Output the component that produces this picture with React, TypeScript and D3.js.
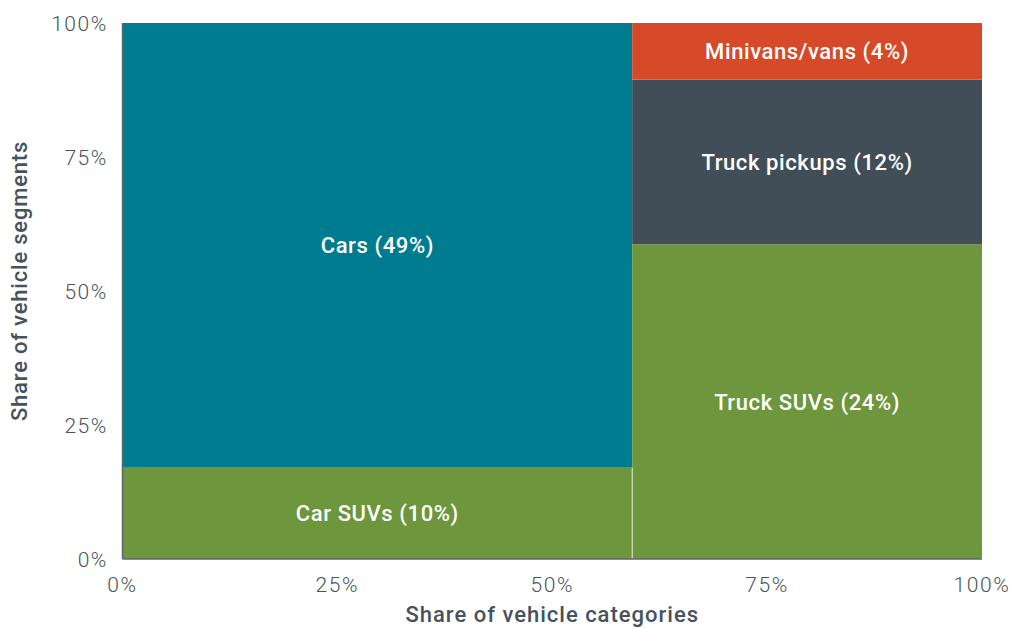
import React from "react";
import * as d3 from "d3";

const categories = ["Car", "Truck"];
const segments = [
  { category: "Car", label: "Car SUVs", display: "10%", value: 10.1, color: "#6d963d" },
  { category: "Car", label: "Cars", display: "49%", value: 49.2, color: "#007c91" },
  { category: "Truck", label: "Truck SUVs", display: "24%", value: 23.9, color: "#6d963d" },
  { category: "Truck", label: "Truck pickups", display: "12%", value: 12.5, color: "#414e57" },
  { category: "Truck", label: "Minivans/vans", display: "4%", value: 4.3, color: "#d64a29" },
];
const ticks = [0, 0.25, 0.5, 0.75, 1];

const W = 1014, H = 628;
const M = { left: 122.5, right: 32, top: 23, bottom: 69 };
const FONT = "Roboto, 'Noto Sans', sans-serif";

export default function App() {
  const x = d3.scaleLinear().domain([0, 1]).range([M.left, W - M.right]);
  const y = d3.scaleLinear().domain([0, 1]).range([H - M.bottom, M.top]);
  const total = d3.sum(segments, (d) => d.value);

  const cols: any[] = [];
  let xc = 0;
  categories.forEach((c) => {
    const segs = segments.filter((s) => s.category === c);
    const colTotal = d3.sum(segs, (s) => s.value);
    const w = colTotal / total;
    let yc = 0;
    const rects = segs.map((s) => {
      const h = s.value / colTotal;
      const r = { ...s, x0: xc, x1: xc + w, y0: yc, y1: yc + h };
      yc += h;
      return r;
    });
    cols.push({ c, x0: xc, x1: xc + w, rects });
    xc += w;
  });
  const allRects = cols.flatMap((c) => c.rects);
  const fmt = d3.format(".0%");
  const sepTop = Math.min(...cols.map((c) => c.rects[0].y1));

  return (
    <svg width={W} height={H} style={{ position: "absolute", left: 0, top: 0, fontFamily: FONT }}>
      {allRects.map((r, i) => (
        <rect key={i} x={x(r.x0)} y={y(r.y1)} width={x(r.x1) - x(r.x0)} height={y(r.y0) - y(r.y1)} fill={r.color} />
      ))}
      {cols.slice(1).map((c, i) => (
        <line key={i} x1={x(c.x0)} x2={x(c.x0)} y1={y(0)} y2={y(sepTop)} stroke="#ffffff" strokeOpacity={0.8} strokeWidth={1} />
      ))}
      {allRects.map((r, i) => (
        <text key={i} x={(x(r.x0) + x(r.x1)) / 2} y={(y(r.y0) + y(r.y1)) / 2} dy="0.36em" textAnchor="middle" fill="#ffffff" fontSize={22} fontWeight={500} letterSpacing={0.6}>
          {`${r.label} (${r.display})`}
        </text>
      ))}
      <line x1={x(0)} x2={x(0)} y1={y(0)} y2={y(1)} stroke="#5f666d" strokeWidth={1.5} />
      <line x1={x(0)} x2={x(1)} y1={y(0)} y2={y(0)} stroke="#5f666d" strokeWidth={1.5} />
      {ticks.map((t) => (
        <text key={"y" + t} x={108} y={y(t)} dy="0.36em" textAnchor="end" fill="#4a535b" fontSize={21} fontWeight={300} letterSpacing={1.6}>
          {fmt(t)}
        </text>
      ))}
      {ticks.map((t) => (
        <text key={"x" + t} x={x(t)} y={592} textAnchor="middle" fill="#4a535b" fontSize={21} fontWeight={300} letterSpacing={1.6}>
          {fmt(t)}
        </text>
      ))}
      <text x={(x(0) + x(1)) / 2} y={622} textAnchor="middle" fill="#46525c" fontSize={22} fontWeight={500} letterSpacing={1.0}>
        Share of vehicle categories
      </text>
      <text transform={`translate(27,281) rotate(-90)`} textAnchor="middle" fill="#46525c" fontSize={22} fontWeight={500} letterSpacing={0.8}>
        Share of vehicle segments
      </text>
    </svg>
  );
}
